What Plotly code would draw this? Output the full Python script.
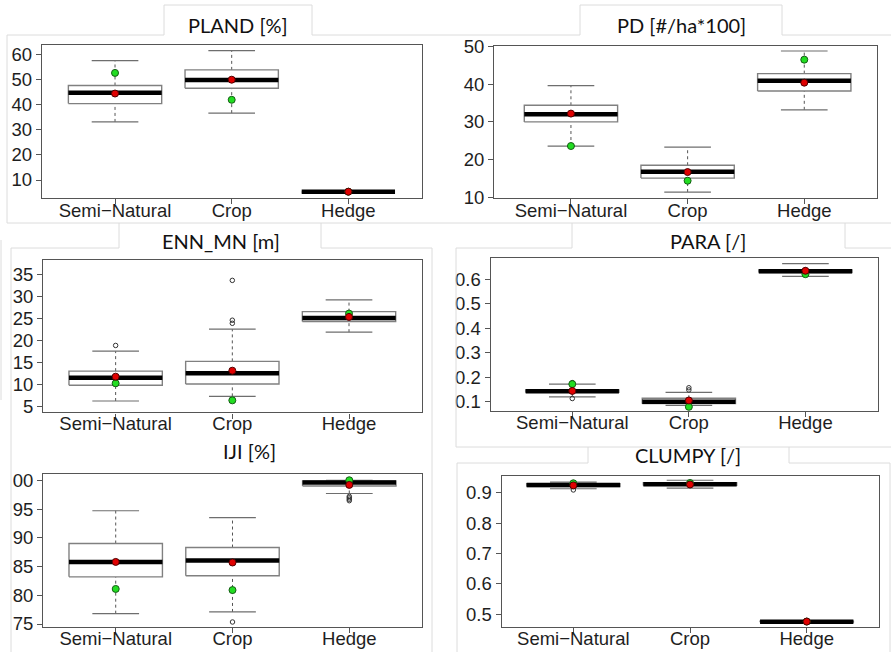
import plotly.graph_objects as go

W, H = 891, 652

categories = ["Semi−Natural", "Crop", "Hedge"]

# ---- PLAND [%] ----
pland_lo = [33.1, 36.6, 5.1]
pland_q1 = [40.4, 46.5, 5.25]
pland_med = [44.7, 49.8, 5.35]
pland_q3 = [47.6, 53.8, 5.45]
pland_hi = [57.5, 61.5, 5.6]
pland_mean = [44.4, 49.9, 5.35]
pland_ref = [52.6, 41.9, 5.35]
pland_out = [[], [], []]
pland_ticks = [10, 20, 30, 40, 50, 60]

# ---- PD [#/ha*100] ----
pd_lo = [23.6, 11.4, 33.2]
pd_q1 = [30.0, 15.1, 38.2]
pd_med = [32.0, 16.8, 40.9]
pd_q3 = [34.4, 18.5, 42.8]
pd_hi = [39.6, 23.3, 48.8]
pd_mean = [32.2, 16.7, 40.4]
pd_ref = [23.6, 14.4, 46.5]
pd_out = [[], [], []]
pd_ticks = [10, 20, 30, 40, 50]

# ---- ENN_MN [m] ----
enn_lo = [6.35, 7.4, 21.9]
enn_q1 = [9.9, 10.2, 24.3]
enn_med = [11.6, 12.6, 25.1]
enn_q3 = [13.1, 15.3, 26.55]
enn_hi = [17.6, 22.6, 29.2]
enn_mean = [11.85, 13.2, 25.35]
enn_ref = [10.35, 6.5, 26.1]
enn_out = [[18.9], [23.9, 24.6, 33.6], []]
enn_ticks = [5, 10, 15, 20, 25, 30, 35]

# ---- PARA [/] ----
para_lo = [0.120, 0.085, 0.612]
para_q1 = [0.138, 0.092, 0.628]
para_med = [0.143, 0.100, 0.633]
para_q3 = [0.148, 0.114, 0.638]
para_hi = [0.172, 0.138, 0.664]
para_mean = [0.144, 0.105, 0.635]
para_ref = [0.172, 0.079, 0.621]
para_out = [[0.113, 0.178], [0.148, 0.157], []]
para_ticks = [0.1, 0.2, 0.3, 0.4, 0.5, 0.6]

# ---- IJI [%] ----
iji_lo = [76.8, 77.1, 97.7]
iji_q1 = [83.2, 83.4, 99.0]
iji_med = [85.8, 86.05, 99.6]
iji_q3 = [89.0, 88.3, 99.9]
iji_hi = [94.7, 93.5, 100.0]
iji_mean = [85.8, 85.7, 99.2]
iji_ref = [81.1, 80.9, 100.0]
iji_out = [[], [75.35], [97.2, 96.95, 96.7, 96.45]]
iji_ticks = [75, 80, 85, 90, 95, 100]

# ---- CLUMPY [/] ----
clumpy_lo = [0.914, 0.916, 0.473]
clumpy_q1 = [0.921, 0.925, 0.474]
clumpy_med = [0.926, 0.929, 0.4755]
clumpy_q3 = [0.931, 0.934, 0.477]
clumpy_hi = [0.936, 0.942, 0.478]
clumpy_mean = [0.925, 0.928, 0.476]
clumpy_ref = [0.932, 0.933, 0.476]
clumpy_out = [[0.910], [], []]
clumpy_ticks = [0.5, 0.6, 0.7, 0.8, 0.9]

titles = ["PLAND [%]", "PD [#/ha*100]", "ENN_MN [m]", "PARA [/]", "IJI [%]", "CLUMPY [/]"]

stats = [
    (pland_lo, pland_q1, pland_med, pland_q3, pland_hi, pland_mean, pland_ref, pland_out, pland_ticks),
    (pd_lo, pd_q1, pd_med, pd_q3, pd_hi, pd_mean, pd_ref, pd_out, pd_ticks),
    (enn_lo, enn_q1, enn_med, enn_q3, enn_hi, enn_mean, enn_ref, enn_out, enn_ticks),
    (para_lo, para_q1, para_med, para_q3, para_hi, para_mean, para_ref, para_out, para_ticks),
    (iji_lo, iji_q1, iji_med, iji_q3, iji_hi, iji_mean, iji_ref, iji_out, iji_ticks),
    (clumpy_lo, clumpy_q1, clumpy_med, clumpy_q3, clumpy_hi, clumpy_mean, clumpy_ref, clumpy_out, clumpy_ticks),
]

# Panel layout in pixels: plot box (left, top, right, bottom), x range, y range,
# and the gap between the x axis and its category labels
panels = [
    dict(box=(42, 45, 421.5, 198), xr=(-0.626, 2.627), yr=(2.84, 63.7), xstand=-9),
    dict(box=(494.3, 45.7, 877.3, 197.7), xr=(-0.657, 2.626), yr=(9.9, 50.2), xstand=-9),
    dict(box=(43.3, 260, 421.7, 412.3), xr=(-0.62, 2.623), yr=(3.8, 38.2), xstand=-11),
    dict(box=(490.7, 258.3, 877.7, 411), xr=(-0.70, 2.62), yr=(0.062, 0.686), xstand=-10),
    dict(box=(43.3, 474.3, 421.7, 627), xr=(-0.62, 2.62), yr=(74.48, 101.04), xstand=-10),
    dict(box=(501.7, 475.7, 879.3, 626.7), xr=(-0.614, 2.622), yr=(0.459, 0.957), xstand=-10),
]
title_pos = [(238, 25), (681, 25), (221, 241), (708, 241), (249, 451), (688, 455)]

BOX_HALF = 0.4
STAPLE_HALF = 0.2
AXIS_FONT = dict(family="Liberation Sans, Arial, sans-serif", size=18.5, color="#1e1e1e")


def px(x):
    return x / W


def py(y):
    return 1 - y / H


fig = go.Figure()
layout = dict(
    width=W, height=H,
    margin=dict(l=0, r=0, t=0, b=0),
    paper_bgcolor="white", plot_bgcolor="white",
    showlegend=False, template="none",
)

for k, (st, pn) in enumerate(zip(stats, panels), start=1):
    lo, q1, med, q3, hi, mean_v, ref_v, outs, ticks = st
    xa = "x" if k == 1 else f"x{k}"
    ya = "y" if k == 1 else f"y{k}"
    n = len(categories)

    wx, wy, sx, sy, bx, by, mx, my = [], [], [], [], [], [], [], []
    for i in range(n):
        wx += [i, i, None, i, i, None]
        wy += [q3[i], hi[i], None, lo[i], q1[i], None]
        sx += [i - STAPLE_HALF, i + STAPLE_HALF, None, i - STAPLE_HALF, i + STAPLE_HALF, None]
        sy += [hi[i], hi[i], None, lo[i], lo[i], None]
        bx += [i - BOX_HALF, i + BOX_HALF, i + BOX_HALF, i - BOX_HALF, i - BOX_HALF, None]
        by += [q1[i], q1[i], q3[i], q3[i], q1[i], None]
        mx += [i - BOX_HALF, i + BOX_HALF, None]
        my += [med[i], med[i], None]

    ox, oy = [], []
    for i, vals in enumerate(outs):
        for v in vals:
            ox.append(i)
            oy.append(v)

    common = dict(xaxis=xa, yaxis=ya, hoverinfo="skip")
    fig.add_trace(go.Scatter(x=wx, y=wy, mode="lines",
                             line=dict(color="#555555", width=1, dash="3px,3px"), **common))
    fig.add_trace(go.Scatter(x=sx, y=sy, mode="lines",
                             line=dict(color="#6e6e6e", width=1.2), **common))
    fig.add_trace(go.Scatter(x=bx, y=by, mode="lines", fill="toself", fillcolor="white",
                             line=dict(color="#808080", width=1.4), **common))
    fig.add_trace(go.Scatter(x=mx, y=my, mode="lines",
                             line=dict(color="black", width=4.5), **common))
    if ox:
        fig.add_trace(go.Scatter(x=ox, y=oy, mode="markers",
                                 marker=dict(symbol="circle-open", size=4.5,
                                             color="#333333", line=dict(width=1)), **common))
    fig.add_trace(go.Scatter(x=list(range(n)), y=ref_v, mode="markers",
                             marker=dict(size=7, color="#22dd22",
                                         line=dict(color="#145c14", width=1)), **common))
    fig.add_trace(go.Scatter(x=list(range(n)), y=mean_v, mode="markers",
                             marker=dict(size=7, color="#e00000",
                                         line=dict(color="#500000", width=1)), **common))

    l, t, r, b = pn["box"]
    axis_common = dict(
        showline=True, mirror=True, linecolor="#555555", linewidth=1.4,
        ticks="outside", ticklen=5, tickcolor="#555555", tickwidth=1,
        showgrid=False, zeroline=False, automargin=False,
        tickfont=AXIS_FONT, fixedrange=True,
    )
    layout["xaxis" if k == 1 else f"xaxis{k}"] = dict(
        domain=[px(l), px(r)], anchor=ya, range=list(pn["xr"]),
        tickvals=list(range(n)), ticktext=categories,
        ticklabelstandoff=pn["xstand"], **axis_common)
    layout["yaxis" if k == 1 else f"yaxis{k}"] = dict(
        domain=[py(b), py(t)], anchor=xa, range=list(pn["yr"]),
        tickvals=ticks, ticktext=[f"{v:g}" for v in ticks], **axis_common)

# Panel titles
annotations = []
for text, (cx, cy) in zip(titles, title_pos):
    annotations.append(dict(
        text=text, x=px(cx), y=py(cy), xref="paper", yref="paper",
        xanchor="center", yanchor="middle", showarrow=False,
        font=dict(family="Lato, Open Sans, sans-serif", size=20, color="#111111")))
layout["annotations"] = annotations

# Light frames around each panel and its title tab
FRAME = "#dcdcdc"
segments = [
    # top row
    (7, 35, 164, 35), (312, 35, 580, 35), (782, 35, 891, 35),
    (164, 5, 312, 5), (164, 5, 164, 35), (312, 5, 312, 35),
    (580, 5, 782, 5), (580, 5, 580, 35), (782, 5, 782, 35),
    (7, 35, 7, 223), (7, 223, 891, 223),
    # ENN_MN / IJI frame
    (119, 223, 119, 248), (321, 223, 321, 248),
    (11, 248, 119, 248), (321, 248, 432, 248),
    (11, 248, 11, 652), (432, 248, 432, 652),
    (1, 240, 1, 400),
    # PARA frame
    (572, 223, 572, 248), (845, 223, 845, 248),
    (456, 248, 572, 248), (845, 248, 891, 248),
    (456, 248, 456, 447), (456, 447, 891, 447),
    # CLUMPY frame
    (588, 447, 588, 463), (789, 447, 789, 463),
    (457, 463, 588, 463), (789, 463, 890, 463),
    (457, 463, 457, 652), (890, 463, 890, 652),
]
# the IJI panel is cut at its left edge, which trims the leading digit of "100"
shapes = [dict(type="rect", xref="paper", yref="paper",
               x0=0, x1=px(13), y0=py(500), y1=py(462),
               fillcolor="white", line=dict(width=0), layer="above")]
for x0, y0, x1, y1 in segments:
    shapes.append(dict(type="line", xref="paper", yref="paper",
                       x0=px(x0), y0=py(y0), x1=px(x1), y1=py(y1),
                       line=dict(color=FRAME, width=1), layer="above"))
layout["shapes"] = shapes

fig.update_layout(**layout)
fig.write_html("out.html", config={"displayModeBar": False})
